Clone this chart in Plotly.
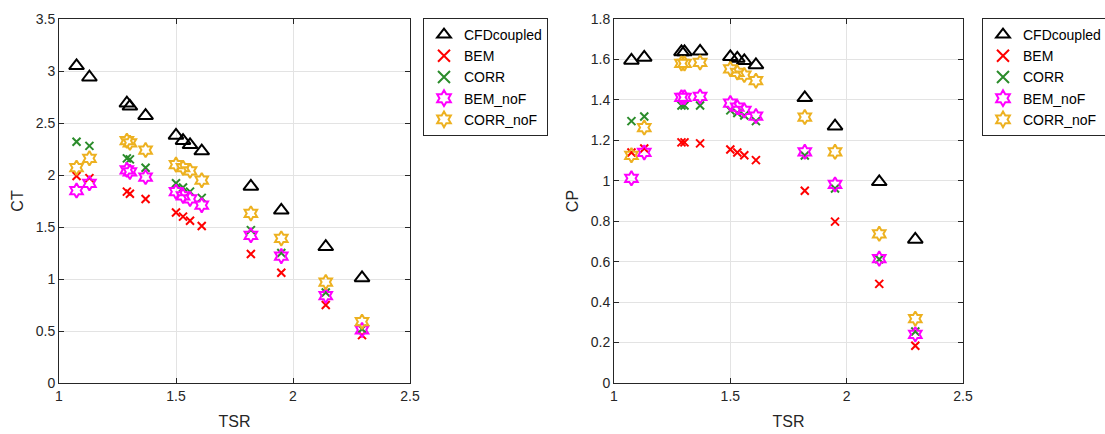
import plotly.graph_objects as go

tsr = [1.075, 1.13, 1.29, 1.303, 1.37, 1.50, 1.53, 1.56, 1.61, 1.82, 1.95, 2.14, 2.295]

ct_cfd = [3.05, 2.94, 2.69, 2.66, 2.57, 2.38, 2.33, 2.29, 2.23, 1.89, 1.66, 1.31, 1.01]
ct_bem = [1.99, 1.97, 1.84, 1.82, 1.77, 1.64, 1.60, 1.56, 1.51, 1.24, 1.06, 0.75, 0.46]
ct_corr = [2.32, 2.28, 2.16, 2.15, 2.07, 1.92, 1.88, 1.84, 1.78, 1.47, 1.25, 0.87, 0.52]
ct_bem_nof = [1.85, 1.92, 2.05, 2.03, 1.98, 1.84, 1.80, 1.77, 1.71, 1.42, 1.22, 0.84, 0.51]
ct_corr_nof = [2.07, 2.16, 2.33, 2.31, 2.24, 2.10, 2.07, 2.04, 1.95, 1.63, 1.39, 0.97, 0.59]

cp_cfd = [1.595, 1.61, 1.637, 1.637, 1.64, 1.613, 1.605, 1.593, 1.573, 1.41, 1.27, 0.995, 0.71]
cp_bem = [1.14, 1.16, 1.19, 1.19, 1.185, 1.155, 1.14, 1.126, 1.102, 0.951, 0.798, 0.49, 0.184]
cp_corr = [1.295, 1.318, 1.372, 1.372, 1.372, 1.348, 1.335, 1.323, 1.295, 1.125, 0.962, 0.612, 0.255]
cp_bem_nof = [1.012, 1.14, 1.413, 1.413, 1.417, 1.384, 1.364, 1.348, 1.32, 1.143, 0.982, 0.615, 0.241]
cp_corr_nof = [1.126, 1.263, 1.58, 1.58, 1.585, 1.553, 1.536, 1.523, 1.495, 1.315, 1.143, 0.738, 0.318]

names = ["CFDcoupled", "BEM", "CORR", "BEM_noF", "CORR_noF"]
styles = [
    dict(symbol="triangle-up-open", size=13, color="black", line=dict(width=2, color="black")),
    dict(symbol="x-thin-open", size=8, color="#ff0000", line=dict(width=2, color="#ff0000")),
    dict(symbol="x-thin-open", size=8, color="#2b8c2b", line=dict(width=2, color="#2b8c2b")),
    dict(symbol="hexagram-open", size=11, color="#ff00ff", line=dict(width=2, color="#ff00ff")),
    dict(symbol="hexagram-open", size=11, color="#edb120", line=dict(width=2, color="#edb120")),
]

fig = go.Figure()
left = [ct_cfd, ct_bem, ct_corr, ct_bem_nof, ct_corr_nof]
right = [cp_cfd, cp_bem, cp_corr, cp_bem_nof, cp_corr_nof]
for n, s, v in zip(names, styles, left):
    fig.add_trace(go.Scatter(x=tsr, y=v, mode="markers", name=n, marker=s,
                             xaxis="x", yaxis="y", legend="legend", cliponaxis=False))
for n, s, v in zip(names, styles, right):
    fig.add_trace(go.Scatter(x=tsr, y=v, mode="markers", name=n, marker=s,
                             xaxis="x2", yaxis="y2", legend="legend2", cliponaxis=False))

W, H = 1105, 434
L, R, T, B = 59, 963, 19, 383
PW = R - L
PH = B - T
font = dict(family="Liberation Sans, Arial, sans-serif", size=14, color="#262626")
ax_common = dict(showline=True, linecolor="#262626", linewidth=1, mirror="ticks",
                 ticks="inside", ticklen=5, tickcolor="#262626",
                 showgrid=True, gridcolor="#e3e3e3", gridwidth=1, zeroline=False,
                 tickfont=font, title_font=dict(family=font["family"], size=16, color="#262626"))

legend_common = dict(bgcolor="white", bordercolor="#262626", borderwidth=1,
                     font=dict(family=font["family"], size=14, color="black"),
                     xanchor="left", yanchor="top", tracegroupgap=0, itemsizing="constant")

fig.update_layout(
    width=W, height=H, margin=dict(l=L, r=W - R, t=T, b=H - B, autoexpand=False),
    plot_bgcolor="white", paper_bgcolor="white", font=font,
    xaxis=dict(domain=[0, (410 - L) / PW], range=[1, 2.5], dtick=0.5,
               title=dict(text="TSR", standoff=13), anchor="y", **ax_common),
    yaxis=dict(domain=[0, 1], range=[0, 3.5], dtick=0.5,
               title=dict(text="CT", standoff=8), anchor="x", **ax_common),
    xaxis2=dict(domain=[(614 - L) / PW, 1], range=[1, 2.5], dtick=0.5,
                title=dict(text="TSR", standoff=13), anchor="y2", **ax_common),
    yaxis2=dict(domain=[0, 1], range=[0, 1.8], dtick=0.2,
                title=dict(text="CP", standoff=8), anchor="x2", **ax_common),
    legend=dict(x=(423 - L) / PW, y=1 + (T - 18) / PH, **legend_common),
    legend2=dict(x=(982 - L) / PW, y=1 + (T - 18) / PH, **legend_common),
)

fig.write_html("out.html", config={"displayModeBar": False},
               post_script="document.body.style.margin='0px';document.body.style.padding='0px';")
